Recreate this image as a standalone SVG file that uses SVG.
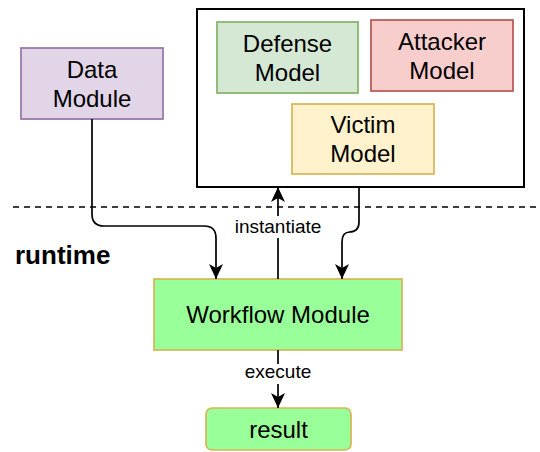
<svg xmlns="http://www.w3.org/2000/svg" width="540" height="452" viewBox="0 0 540 452">
<defs>
<style>
.lbl{font-family:"Liberation Sans",Arial,sans-serif;font-size:24px;fill:#000;text-anchor:middle}
.elbl{font-family:"Liberation Sans",Arial,sans-serif;font-size:19px;fill:#000;text-anchor:middle}
.edge{fill:none;stroke:#000;stroke-width:1.7}
.box{stroke-width:1.7}
</style>
<marker id="arr" markerUnits="userSpaceOnUse" markerWidth="15" markerHeight="14" refX="15" refY="7" orient="auto" viewBox="0 0 15 14">
<path d="M0,0 L15,7 L0,14 L4,7 Z" fill="#000"/>
</marker>
</defs>
<rect width="540" height="452" fill="#fff"/>
<line x1="13" y1="207" x2="540" y2="207" stroke="#000" stroke-width="1.7" stroke-dasharray="6 5"/>
<text x="15" y="264" font-family="'Liberation Sans',Arial,sans-serif" font-size="26" font-weight="bold" fill="#000">runtime</text>
<g id="container">
<rect x="197" y="9" width="327" height="178" fill="#fff" stroke="#000" stroke-width="2"/>
</g>
<g id="defense">
<rect class="box" x="217" y="22" width="141" height="71" fill="#d5e8d4" stroke="#82b366"/>
<text class="lbl" x="287.5" y="52">Defense</text>
<text class="lbl" x="287.5" y="81">Model</text>
</g>
<g id="attacker">
<rect class="box" x="371" y="20" width="142" height="71" fill="#f8cecc" stroke="#b85450"/>
<text class="lbl" x="442" y="50">Attacker</text>
<text class="lbl" x="442" y="79">Model</text>
</g>
<g id="victim">
<rect class="box" x="292" y="104" width="142" height="70" fill="#fff2cc" stroke="#d6b656"/>
<text class="lbl" x="363" y="133">Victim</text>
<text class="lbl" x="363" y="162">Model</text>
</g>
<g id="data">
<rect class="box" x="21" y="48" width="142" height="71" fill="#e1d5e7" stroke="#9673a6"/>
<text class="lbl" x="92" y="78">Data</text>
<text class="lbl" x="92" y="107">Module</text>
</g>
<g id="workflow">
<rect class="box" x="154" y="279" width="248" height="71" fill="#99ff99" stroke="#d6b656"/>
<text class="lbl" x="278" y="323">Workflow Module</text>
</g>
<g id="result">
<rect class="box" x="206" y="408" width="145" height="42" rx="6" fill="#99ff99" stroke="#d6b656"/>
<text class="lbl" x="278.5" y="438">result</text>
</g>
<g id="connectors">
<path class="edge" d="M92,119 V214 Q92,226 104,226 H204 Q216,226 216,238 V279" marker-end="url(#arr)"/>
<path class="edge" d="M359,187 V222 Q359,232 349,232 H350 Q342,232 342,242 V279" marker-end="url(#arr)"/>
<path class="edge" d="M278,279 V187" marker-end="url(#arr)"/>
<rect x="231" y="216" width="94" height="22" fill="#fff"/>
<text class="elbl" x="278" y="233">instantiate</text>
<path class="edge" d="M278,350 V408" marker-end="url(#arr)"/>
<rect x="242" y="364" width="72" height="20" fill="#fff"/>
<text class="elbl" x="278" y="378">execute</text>
</g>
</svg>
